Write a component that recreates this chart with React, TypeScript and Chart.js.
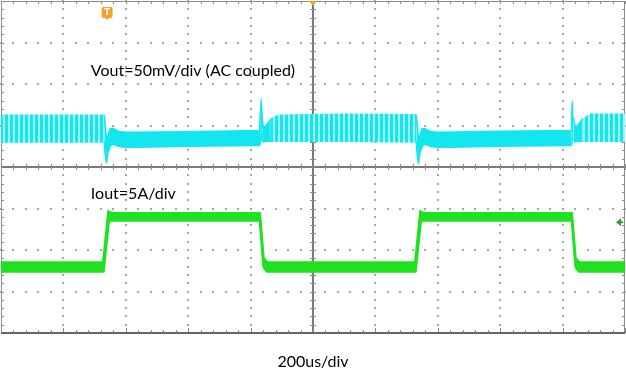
import React, { useEffect, useRef } from "react";
import { Chart, registerables } from "chart.js";

Chart.register(...registerables);

// time axis in microseconds (200 us/div, 10 divisions); vertical axis in divisions (-4..4)
const X_MIN = 0;
const X_MAX = 2000;
const X_DIV = 200;
const Y_MIN = -4;
const Y_MAX = 4;

// Vout (cyan) envelope, divisions
const vTime = [0, 331, 334, 338, 343, 350, 360, 375, 400, 600, 829, 831, 834, 837, 841, 850, 865, 890, 1100, 1331, 1334, 1338, 1343, 1350, 1360, 1375, 1400, 1600, 1827, 1829, 1832, 1835, 1839, 1848, 1863, 1888, 2000];
const vUpper = [1.25, 1.25, 1.0, 0.7, 0.75, 0.93, 0.93, 0.86, 0.84, 0.85, 0.88, 1.3, 1.62, 1.2, 0.95, 1.0, 1.15, 1.25, 1.27, 1.26, 1.0, 0.7, 0.75, 0.93, 0.92, 0.86, 0.84, 0.86, 0.88, 1.3, 1.58, 1.2, 0.95, 1.0, 1.15, 1.27, 1.27];
const vLower = [0.6, 0.6, 0.3, 0.1, 0.35, 0.5, 0.55, 0.5, 0.47, 0.5, 0.52, 0.55, 0.8, 0.65, 0.6, 0.62, 0.62, 0.62, 0.62, 0.6, 0.3, 0.08, 0.35, 0.5, 0.55, 0.5, 0.47, 0.5, 0.52, 0.55, 0.8, 0.65, 0.6, 0.62, 0.62, 0.62, 0.62];

// Iout (green) envelope, divisions
const iTime = [0, 326, 330, 343, 347, 360, 600, 828, 831, 840, 843, 852, 855, 862, 1100, 1326, 1330, 1343, 1347, 1360, 1600, 1828, 1831, 1840, 1843, 1852, 1855, 1862, 2000];
const iUpper = [-2.29, -2.29, -2.0, -1.05, -1.08, -1.1, -1.1, -1.1, -1.1, -1.93, -2.2, -2.27, -2.29, -2.29, -2.29, -2.29, -2.0, -1.05, -1.08, -1.1, -1.1, -1.1, -1.1, -1.93, -2.2, -2.27, -2.29, -2.29, -2.29];
const iLower = [-2.53, -2.53, -2.53, -1.59, -1.3, -1.3, -1.3, -1.3, -1.56, -2.4, -2.45, -2.53, -2.53, -2.53, -2.53, -2.53, -2.53, -1.59, -1.3, -1.3, -1.3, -1.3, -1.56, -2.4, -2.45, -2.53, -2.53, -2.53, -2.53];

// markers
const TRIGGER_TIME = 340;
const TRIGGER_LEVEL = -1.33;
const DELAY_TIME = 1000;

// labels: text, [time, level]
const VOUT_LABEL = "Vout=50mV/div (AC coupled)";
const VOUT_LABEL_POS = [288, 2.19];
const IOUT_LABEL = "Iout=5A/div";
const IOUT_LABEL_POS = [288, -0.77];
const TIMEBASE_LABEL = "200us/div";

// ripple amplitude threshold (div) above which the light-load ripple texture is used
const RIPPLE_LEVEL = 1.14;

const CYAN = "rgb(20,230,240)";
const CYAN_PALE = "rgb(160,244,250)";
const GREEN = "rgb(30,226,30)";

const scopePlugin = {
  id: "scope",
  beforeDatasetsDraw(chart: any) {
    const { ctx, chartArea, scales } = chart;
    const { left, right, top, bottom } = chartArea;
    const xs = scales.x;
    const ys = scales.y;
    const xMinor = X_DIV / 5;
    const yMinor = 0.2;
    ctx.save();
    ctx.fillStyle = "#a8a8a8";
    for (let xv = X_MIN + X_DIV; xv < X_MAX; xv += X_DIV) {
      if (xv === (X_MIN + X_MAX) / 2) continue;
      const px = Math.round(xs.getPixelForValue(xv));
      for (let k = 0; k <= (Y_MAX - Y_MIN) / yMinor; k++) {
        const py = Math.round(ys.getPixelForValue(Y_MIN + k * yMinor));
        ctx.fillRect(px - 1, py - 1, 2, 2);
      }
    }
    for (let yv = Y_MIN + 1; yv < Y_MAX; yv += 1) {
      if (yv === 0) continue;
      const py = Math.round(ys.getPixelForValue(yv));
      for (let k = 0; k <= (X_MAX - X_MIN) / xMinor; k++) {
        const px = Math.round(xs.getPixelForValue(X_MIN + k * xMinor));
        ctx.fillRect(px - 1, py - 1, 2, 2);
      }
    }
    const cx = Math.round(xs.getPixelForValue((X_MIN + X_MAX) / 2));
    const cy = Math.round(ys.getPixelForValue(0));
    ctx.strokeStyle = "#7a7a7a";
    ctx.lineWidth = 2;
    ctx.beginPath();
    ctx.moveTo(left, cy);
    ctx.lineTo(right, cy);
    ctx.moveTo(cx, top);
    ctx.lineTo(cx, bottom);
    ctx.stroke();
    ctx.lineWidth = 1;
    ctx.strokeStyle = "#888";
    ctx.beginPath();
    for (let k = 0; k <= (X_MAX - X_MIN) / xMinor; k++) {
      const px = Math.round(xs.getPixelForValue(X_MIN + k * xMinor)) + 0.5;
      ctx.moveTo(px, cy - 3);
      ctx.lineTo(px, cy + 3);
      ctx.moveTo(px, top);
      ctx.lineTo(px, top + 3);
      ctx.moveTo(px, bottom);
      ctx.lineTo(px, bottom - (k % 5 === 0 ? 5 : 3));
    }
    for (let k = 0; k <= (Y_MAX - Y_MIN) / yMinor; k++) {
      const py = Math.round(ys.getPixelForValue(Y_MIN + k * yMinor)) + 0.5;
      ctx.moveTo(cx - 3, py);
      ctx.lineTo(cx + 3, py);
      ctx.moveTo(left, py);
      ctx.lineTo(left + 3, py);
      ctx.moveTo(right, py);
      ctx.lineTo(right - 3, py);
    }
    ctx.stroke();
    ctx.strokeStyle = "#8c8c8c";
    ctx.lineWidth = 1;
    ctx.strokeRect(left + 0.5, top + 0.5, right - left - 1, bottom - top - 1);
    ctx.strokeStyle = "#666";
    ctx.lineWidth = 2;
    ctx.beginPath();
    ctx.moveTo(left, bottom);
    ctx.lineTo(right, bottom);
    ctx.stroke();
    ctx.restore();
  },
  afterDatasetsDraw(chart: any) {
    const { ctx, chartArea, scales } = chart;
    const xs = scales.x;
    const ys = scales.y;
    ctx.save();
    ctx.fillStyle = "#000";
    ctx.font = "16px Lato";
    ctx.textAlign = "left";
    ctx.textBaseline = "alphabetic";
    ctx.fillText(VOUT_LABEL, xs.getPixelForValue(VOUT_LABEL_POS[0]), ys.getPixelForValue(VOUT_LABEL_POS[1]));
    ctx.fillText(IOUT_LABEL, xs.getPixelForValue(IOUT_LABEL_POS[0]), ys.getPixelForValue(IOUT_LABEL_POS[1]));
    ctx.textAlign = "center";
    ctx.fillText(TIMEBASE_LABEL, (chartArea.left + chartArea.right) / 2, chartArea.bottom + 34);

    const tx = xs.getPixelForValue(TRIGGER_TIME);
    const ty = chartArea.top + 6;
    ctx.fillStyle = "#f5a02a";
    ctx.beginPath();
    const w = 11, h = 11, r = 2;
    const x0 = tx - w / 2;
    ctx.moveTo(x0 + r, ty);
    ctx.lineTo(x0 + w - r, ty);
    ctx.quadraticCurveTo(x0 + w, ty, x0 + w, ty + r);
    ctx.lineTo(x0 + w, ty + h - r);
    ctx.quadraticCurveTo(x0 + w, ty + h, x0 + w - r, ty + h);
    ctx.lineTo(tx + 2, ty + h);
    ctx.lineTo(tx, ty + h + 2);
    ctx.lineTo(tx - 2, ty + h);
    ctx.lineTo(x0 + r, ty + h);
    ctx.quadraticCurveTo(x0, ty + h, x0, ty + h - r);
    ctx.lineTo(x0, ty + r);
    ctx.quadraticCurveTo(x0, ty, x0 + r, ty);
    ctx.fill();
    ctx.fillStyle = "#fff";
    ctx.font = "bold 9px 'DejaVu Sans'";
    ctx.textAlign = "center";
    ctx.textBaseline = "middle";
    ctx.fillText("T", tx, ty + h / 2 + 0.5);

    const dx = xs.getPixelForValue(DELAY_TIME);
    ctx.fillStyle = "#f5a02a";
    ctx.beginPath();
    ctx.moveTo(dx - 4, chartArea.top);
    ctx.lineTo(dx + 4, chartArea.top);
    ctx.lineTo(dx, chartArea.top + 5);
    ctx.closePath();
    ctx.fill();

    const ly = ys.getPixelForValue(TRIGGER_LEVEL);
    const lx = chartArea.right - 9;
    ctx.fillStyle = "#2f9e2f";
    ctx.beginPath();
    ctx.moveTo(lx, ly);
    ctx.lineTo(lx + 5, ly - 4);
    ctx.lineTo(lx + 5, ly + 4);
    ctx.closePath();
    ctx.fill();
    ctx.fillRect(lx + 4, ly - 1, 3, 2);
    ctx.restore();
  },
};

function band(times: number[], values: number[]) {
  return times.map((t, i) => ({ x: t, y: values[i] }));
}

function makeRipplePattern(ctx: CanvasRenderingContext2D) {
  const c = document.createElement("canvas");
  c.width = 5;
  c.height = 1;
  const p = c.getContext("2d")!;
  p.fillStyle = CYAN_PALE;
  p.fillRect(0, 0, 5, 1);
  p.fillStyle = CYAN;
  p.fillRect(0, 0, 3, 1);
  return ctx.createPattern(c, "repeat");
}

export default function App() {
  const ref = useRef<HTMLCanvasElement>(null);
  useEffect(() => {
    document.body.style.margin = "0";
    const canvas = ref.current;
    if (!canvas) return;
    const ripple = makeRipplePattern(canvas.getContext("2d")!);
    const isRipple = (c: any) => c.p0.parsed.y >= RIPPLE_LEVEL && c.p1.parsed.y >= RIPPLE_LEVEL;
    const isRippleLow = (c: any) => {
      const i0 = c.p0DataIndex;
      const i1 = c.p1DataIndex;
      return vUpper[i0] >= RIPPLE_LEVEL && vUpper[i1] >= RIPPLE_LEVEL;
    };
    const common = { pointRadius: 0, borderWidth: 1.5, tension: 0 };
    const chart = new Chart(canvas, {
      type: "line",
      data: {
        datasets: [
          { ...common, data: band(iTime, iUpper), borderColor: GREEN, backgroundColor: GREEN, fill: "+1" },
          { ...common, data: band(iTime, iLower), borderColor: GREEN, backgroundColor: GREEN, fill: false },
          {
            ...common,
            data: band(vTime, vUpper),
            borderColor: CYAN,
            backgroundColor: CYAN,
            fill: "+1",
            segment: {
              backgroundColor: (c: any) => (isRipple(c) ? ripple : CYAN),
              borderColor: (c: any) => (isRipple(c) ? ripple : CYAN),
            },
          },
          {
            ...common,
            data: band(vTime, vLower),
            borderColor: CYAN,
            backgroundColor: CYAN,
            fill: false,
            segment: {
              borderColor: (c: any) => (isRippleLow(c) ? ripple : CYAN),
            },
          },
        ],
      } as any,
      options: {
        animation: false,
        responsive: false,
        devicePixelRatio: 1,
        layout: { padding: { left: 1, right: 1, top: 1, bottom: 41 } },
        scales: {
          x: { type: "linear", min: X_MIN, max: X_MAX, display: false },
          y: { type: "linear", min: Y_MIN, max: Y_MAX, display: false },
        },
        plugins: { legend: { display: false }, tooltip: { enabled: false }, title: { display: false } },
        elements: { line: { borderJoinStyle: "round" } },
      } as any,
      plugins: [scopePlugin],
    });
    return () => chart.destroy();
  }, []);
  return (
    <div style={{ width: 626, height: 374, background: "#fff" }}>
      <canvas ref={ref} width={626} height={374} style={{ display: "block" }} />
    </div>
  );
}
